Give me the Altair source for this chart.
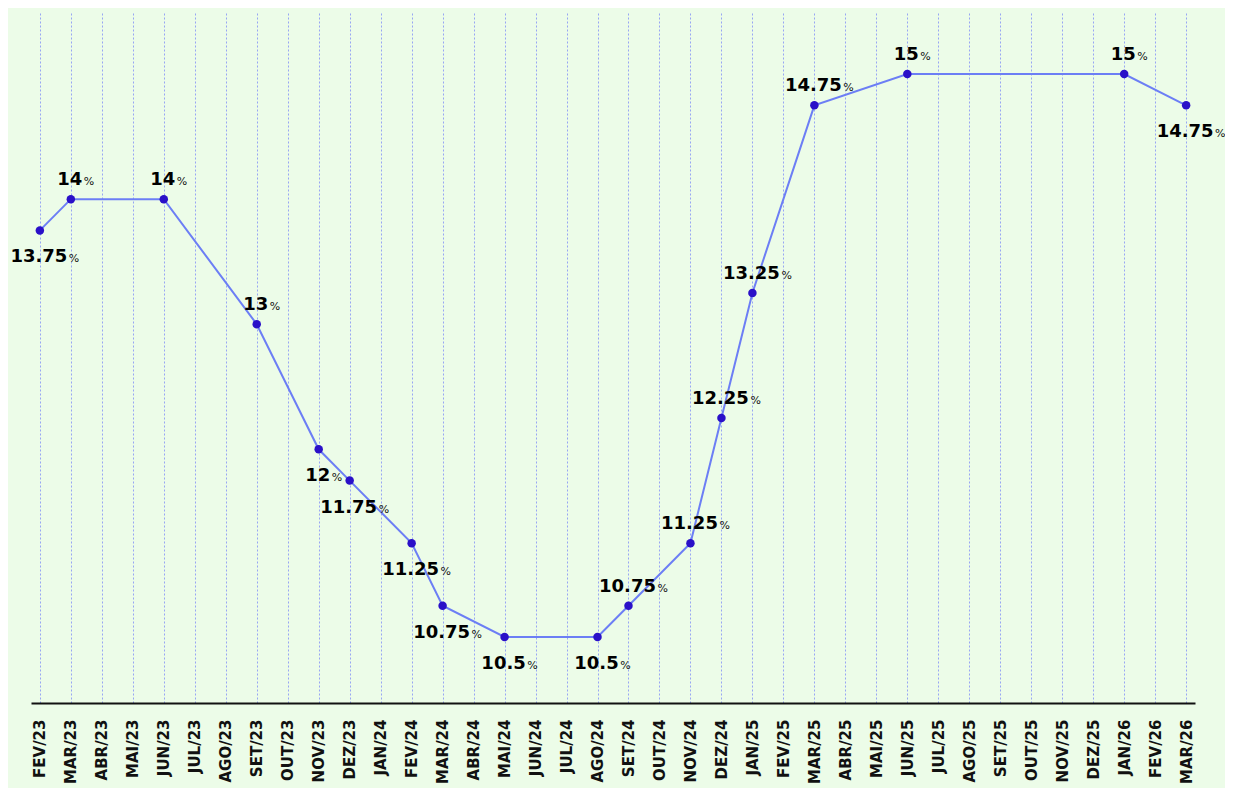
import altair as alt
import pandas as pd

# x axis categories (tick labels)
months = ["FEV/23", "MAR/23", "ABR/23", "MAI/23", "JUN/23", "JUL/23", "AGO/23", "SET/23",
          "OUT/23", "NOV/23", "DEZ/23", "JAN/24", "FEV/24", "MAR/24", "ABR/24", "MAI/24",
          "JUN/24", "JUL/24", "AGO/24", "SET/24", "OUT/24", "NOV/24", "DEZ/24", "JAN/25",
          "FEV/25", "MAR/25", "ABR/25", "MAI/25", "JUN/25", "JUL/25", "AGO/25", "SET/25",
          "OUT/25", "NOV/25", "DEZ/25", "JAN/26", "FEV/26", "MAR/26"]

# months where the rate changed (points drawn)
point_months = ["FEV/23", "MAR/23", "JUN/23", "SET/23", "NOV/23", "DEZ/23", "FEV/24", "MAR/24",
                "MAI/24", "AGO/24", "SET/24", "NOV/24", "DEZ/24", "JAN/25", "MAR/25", "JUN/25",
                "JAN/26", "MAR/26"]
rates = [13.75, 14, 14, 13, 12, 11.75, 11.25, 10.75, 10.5, 10.5, 10.75, 11.25, 12.25, 13.25,
         14.75, 15, 15, 14.75]
label_side = ["below", "above", "above", "above", "below", "below", "below", "below",
              "below", "below", "above", "above", "above", "above", "above", "above",
              "above", "below"]

df = pd.DataFrame({"month": point_months, "rate": rates, "side": label_side})
df["label"] = [f"{v:g}" for v in rates]
df["pct"] = "%"
df["nchar"] = df["label"].str.len()

BG = "#ECFCE8"
FONT = "DejaVu Sans"
NUM_SIZE = 18

x_enc = alt.X("month:N", sort=months,
              scale=alt.Scale(type="point", domain=months, padding=0.286),
              axis=alt.Axis(title=None, labelAngle=-90, labelFont=FONT, labelFontWeight="bold",
                            labelFontSize=15, labelColor="#111111", ticks=False, labelPadding=16,
                            domainColor="#111111", domainWidth=2,
                            grid=True, gridColor="#8e9cf5", gridDash=[2, 2], gridWidth=1,
                            gridOpacity=0.9))
y_enc = alt.Y("rate:Q", scale=alt.Scale(domain=[9.972, 15.488], nice=False, zero=False),
              axis=None)

base = alt.Chart(df)

line = base.mark_line(color="#6C7EF5", strokeWidth=2).encode(x=x_enc, y=y_enc)
points = base.mark_circle(color="#2A10C8", size=72, opacity=1).encode(x=x_enc, y=y_enc)

layers = [line, points]

dy_map = {"above": -14, "below": 32}
char_w = {".": 0.38}
for side, dy in dy_map.items():
    layers.append(
        base.transform_filter(alt.datum.side == side).mark_text(
            font=FONT, fontWeight="bold", fontSize=NUM_SIZE, color="#000000", align="center",
            baseline="alphabetic", dx=-1, dy=dy
        ).encode(x=alt.X("month:N", sort=months), y="rate:Q", text="label:N")
    )
    for n in sorted(df["nchar"].unique()):
        sample = df[df["nchar"] == n]["label"].iloc[0]
        w = sum(char_w.get(c, 0.696) for c in sample) * NUM_SIZE
        layers.append(
            base.transform_filter((alt.datum.side == side) & (alt.datum.nchar == int(n))).mark_text(
                font=FONT, fontSize=11, color="#111111", align="left",
                baseline="alphabetic", dx=-1 + w / 2 + 1.5, dy=dy
            ).encode(x=alt.X("month:N", sort=months), y="rate:Q", text="pct:N")
        )

chart = alt.layer(*layers).properties(
    width=1164, height=690, background=BG,
    autosize=alt.AutoSizeParams(type="none"),
    padding={"left": 23, "top": 5, "right": 30, "bottom": 85},
).configure_view(stroke=None)

chart.save("out.html", embed_options={"renderer": "svg", "actions": False})
